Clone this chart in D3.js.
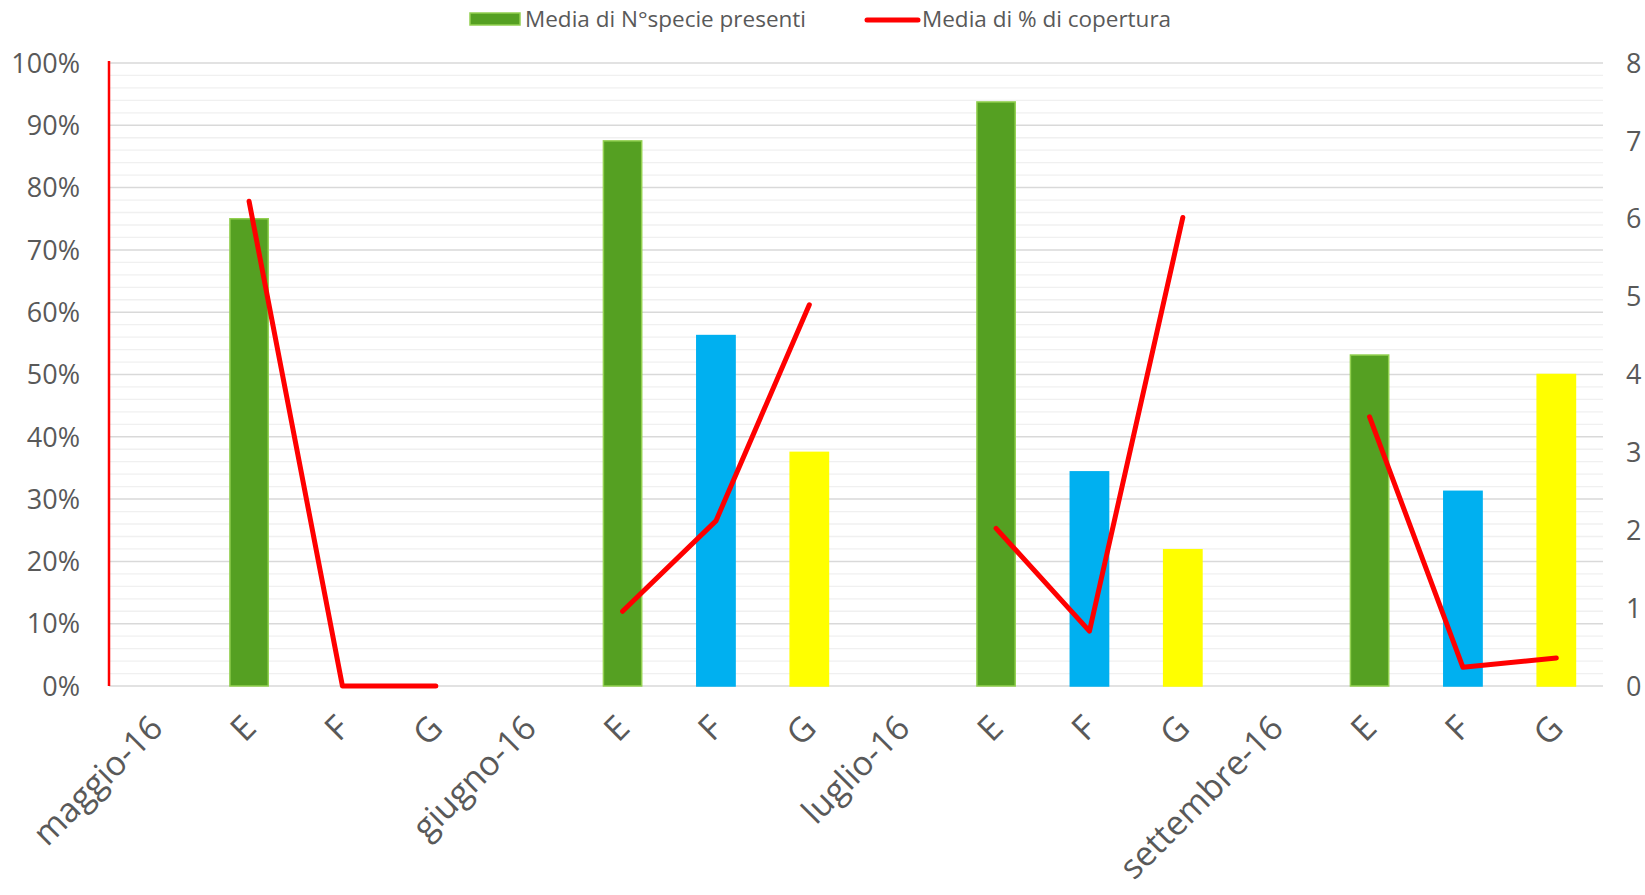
<!DOCTYPE html>
<html>
<head>
<meta charset="utf-8">
<script src="https://cdn.jsdelivr.net/npm/d3@7"></script>
<style>
  html, body { margin: 0; padding: 0; background: #fff; }
  svg { display: block; font-family: "Open Sans", sans-serif; }
</style>
</head>
<body>
<svg id="chart" width="1645" height="895"></svg>
<script>
// ---- data ----
const categories = ["maggio-16","E","F","G","giugno-16","E","F","G","luglio-16","E","F","G","settembre-16","E","F","G"];
const siteType   = [null,"E","F","G",null,"E","F","G",null,"E","F","G",null,"E","F","G"];
// Media di N°specie presenti (right axis, 0-8)
const speciesMean = [null, 6.0, null, null, null, 7.0, 4.5, 3.0, null, 7.5, 2.75, 1.75, null, 4.25, 2.5, 4.0];
// Media di % di copertura (left axis, 0-100%)
const coverMean   = [null, 0.778, 0.0, 0.0, null, 0.12, 0.265, 0.612, null, 0.253, 0.088, 0.752, null, 0.432, 0.03, 0.045];
const leftTicks  = [0,0.1,0.2,0.3,0.4,0.5,0.6,0.7,0.8,0.9,1.0];
const rightTicks = [0,1,2,3,4,5,6,7,8];
const legendLabels = ["Media di N°specie presenti", "Media di % di copertura"];

// ---- layout ----
const svg = d3.select("#chart");
const L = 109, R = 1603, T = 63, B = 686;
const textColor = "#595959";
const fillColors = { E: "#55a022", F: "#00b0f0", G: "#ffff00" };
const strokeColors = { E: "#92d050", F: "#00b0f0", G: "#ffff00" };

const x = d3.scaleBand().domain(d3.range(categories.length)).range([L, R])
  .paddingInner(0.59).paddingOuter(0.295);
const yL = d3.scaleLinear().domain([0, 1]).range([B, T]);
const yR = d3.scaleLinear().domain([0, 8]).range([B, T]);

// minor gridlines (every 2%)
const minor = d3.range(0, 1.0001, 0.02).filter(v => Math.round(v*100) % 10 !== 0);
svg.append("g").selectAll("line").data(minor).join("line")
  .attr("x1", L).attr("x2", R)
  .attr("y1", d => yL(d)).attr("y2", d => yL(d))
  .attr("stroke", "#f0f0f0").attr("stroke-width", 1.3);
// major gridlines (every 10%)
svg.append("g").selectAll("line").data(leftTicks).join("line")
  .attr("x1", L).attr("x2", R)
  .attr("y1", d => yL(d)).attr("y2", d => yL(d))
  .attr("stroke", "#d9d9d9").attr("stroke-width", 1.5);

// bars
const barData = speciesMean.map((v, i) => ({ i, v, t: siteType[i] })).filter(d => d.v != null);
svg.append("g").selectAll("rect").data(barData).join("rect")
  .attr("x", d => x(d.i))
  .attr("width", x.bandwidth())
  .attr("y", d => yR(d.v))
  .attr("height", d => B - yR(d.v))
  .attr("fill", d => fillColors[d.t])
  .attr("stroke", d => strokeColors[d.t])
  .attr("stroke-width", 1.5);

// left axis line (red)
svg.append("line").attr("x1", L).attr("x2", L).attr("y1", T - 2).attr("y2", B)
  .attr("stroke", "#ff0000").attr("stroke-width", 2.5);

// line series
const line = d3.line()
  .defined(d => d.v != null)
  .x(d => x(d.i) + x.bandwidth() / 2)
  .y(d => yL(d.v));
svg.append("path")
  .datum(coverMean.map((v, i) => ({ i, v })))
  .attr("d", line)
  .attr("fill", "none")
  .attr("stroke", "#ff0000")
  .attr("stroke-width", 5)
  .attr("stroke-linecap", "round")
  .attr("stroke-linejoin", "round");

// left tick labels
svg.append("g").selectAll("text").data(leftTicks).join("text")
  .attr("x", 80).attr("y", d => yL(d))
  .attr("dy", "0.36em")
  .attr("text-anchor", "end")
  .attr("fill", textColor)
  .attr("font-size", 27)
  .text(d => d3.format(".0%")(d));

// right tick labels
svg.append("g").selectAll("text").data(rightTicks).join("text")
  .attr("x", 1626).attr("y", d => yR(d))
  .attr("dy", "0.36em")
  .attr("text-anchor", "start")
  .attr("fill", textColor)
  .attr("font-size", 27)
  .text(d => d);

// x labels
svg.append("g").selectAll("text").data(categories).join("text")
  .attr("transform", (d, i) => `translate(${x(i) + x.bandwidth()/2 + 9},730) rotate(-45)`)
  .attr("text-anchor", "end")
  .attr("fill", textColor)
  .attr("font-size", 34)
  .text(d => d);

// legend
const lg = svg.append("g");
lg.append("rect").attr("x", 470).attr("y", 13).attr("width", 50).attr("height", 12)
  .attr("fill", fillColors.E).attr("stroke", strokeColors.E).attr("stroke-width", 1.5);
lg.append("text").attr("x", 525).attr("y", 19).attr("dy", "0.36em")
  .attr("fill", textColor).attr("font-size", 22.5).text(legendLabels[0]);
lg.append("line").attr("x1", 867).attr("x2", 918).attr("y1", 20).attr("y2", 20)
  .attr("stroke", "#ff0000").attr("stroke-width", 5).attr("stroke-linecap", "round");
lg.append("text").attr("x", 922).attr("y", 19).attr("dy", "0.36em")
  .attr("fill", textColor).attr("font-size", 22.5).text(legendLabels[1]);
</script>
</body>
</html>
